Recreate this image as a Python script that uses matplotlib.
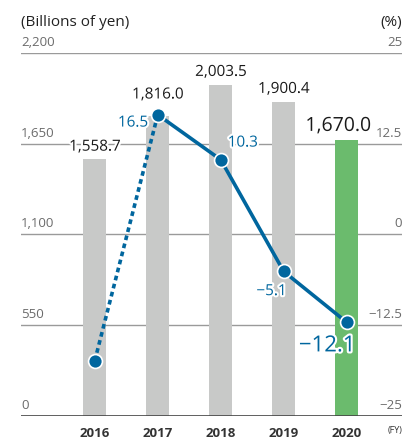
import numpy as np
import matplotlib.pyplot as plt
import matplotlib.patheffects as pe

plt.rcParams['font.family'] = ['Open Sans', 'DejaVu Sans']

# データ
years = ['2016', '2017', '2018', '2019', '2020']
sales = [1558.7, 1816.0, 2003.5, 1900.4, 1670.0]
sales_labels = ['1,558.7', '1,816.0', '2,003.5', '1,900.4', '1,670.0']
growth = [-17.4, 16.5, 10.3, -5.1, -12.1]
growth_labels = ['', '16.5', '10.3', '\u22125.1', '\u221212.1']
left_ticks = [0, 550, 1100, 1650, 2200]
left_tick_labels = ['0', '550', '1,100', '1,650', '2,200']
right_ticks = [-25, -12.5, 0, 12.5, 25]
right_tick_labels = ['\u221225', '\u221212.5', '0', '12.5', '25']

gray = '#c8c9c8'
green = '#6bbb6d'
blue = '#00669e'
grid_c = '#9a9a9a'
tick_c = '#6b6b6b'

fig = plt.figure(figsize=(4.05, 4.42), dpi=100)
ax = fig.add_axes([0.052, 0.059, 0.941, 0.821])
ax2 = ax.twinx()

x = np.arange(len(years))
colors = [gray] * 4 + [green]
ax.bar(x, sales, width=0.365, color=colors, zorder=2)
ax.set_ylim(0, 2200)
ax.set_xlim(-1.17, 4.88)

# グリッド
for v in left_ticks[1:]:
    ax.axhline(v, color=grid_c, lw=1.0, zorder=1)
ax.axhline(0, color='#444444', lw=1.2, zorder=3)

for s in ax.spines.values():
    s.set_visible(False)
for s in ax2.spines.values():
    s.set_visible(False)
ax.set_yticks([])
ax2.set_yticks([])
ax.tick_params(axis='x', length=0, pad=8)
ax.set_xticks(x)
ax.set_xticklabels(years, fontsize=9.5, fontweight='bold', color='#333333')

# 左右の目盛りラベル
for v, lab in zip(left_ticks, left_tick_labels):
    ax.annotate(lab, xy=(0, v), xycoords=('axes fraction', 'data'),
                xytext=(0, 3), textcoords='offset points',
                ha='left', va='bottom', fontsize=9.5, color=tick_c)
ax2.set_ylim(-25, 25)
for v, lab in zip(right_ticks, right_tick_labels):
    ax2.annotate(lab, xy=(1, v), xycoords=('axes fraction', 'data'),
                 xytext=(0, 3), textcoords='offset points',
                 ha='right', va='bottom', fontsize=9.5, color=tick_c)

fig.text(0.052, 0.948, '(Billions of yen)', fontsize=11, color='#222222', va='center')
fig.text(0.993, 0.948, '(%)', fontsize=11, color='#222222', va='center', ha='right')
fig.text(0.993, 0.025, '(FY)', fontsize=6.5, color='#333333', va='center', ha='right')

# 折れ線
ax2.plot(x[:2], growth[:2], color=blue, lw=2.6, ls=(0, (1.3, 1.0)), zorder=4)
ax2.plot(x[1:], growth[1:], color=blue, lw=2.6, zorder=4)
ax2.plot(x, growth, 'o', color=blue, ms=10, mec='white', mew=1.2, zorder=5)

stroke = [pe.withStroke(linewidth=3, foreground='white')]

# 売上ラベル
sales_offsets = [(0, 3), (0, 10), (0, 4), (0, 4), (-6, 4)]
for i, (v, lab) in enumerate(zip(sales, sales_labels)):
    big = i == len(sales) - 1
    ax.annotate(lab, xy=(x[i], v), xytext=sales_offsets[i], textcoords='offset points',
                ha='center', va='bottom', fontsize=14 if big else 11,
                color='#1a1a1a', path_effects=stroke, zorder=6)

# 伸び率ラベル
growth_pos = [(0, 0, 'center', 'center'), (-7, -6, 'right', 'center'),
              (5, 12, 'left', 'center'), (2, -14.5, 'right', 'center'),
              (-14, -17, 'center', 'center')]
for i, (v, lab) in enumerate(zip(growth, growth_labels)):
    if not lab:
        continue
    dx, dy, ha, va = growth_pos[i]
    big = i == len(growth) - 1
    ax2.annotate(lab, xy=(x[i], v), xytext=(dx, dy), textcoords='offset points',
                 ha=ha, va=va, fontsize=16 if big else 11, color=blue,
                 path_effects=stroke, zorder=6)

plt.savefig('out.png', dpi=100)
